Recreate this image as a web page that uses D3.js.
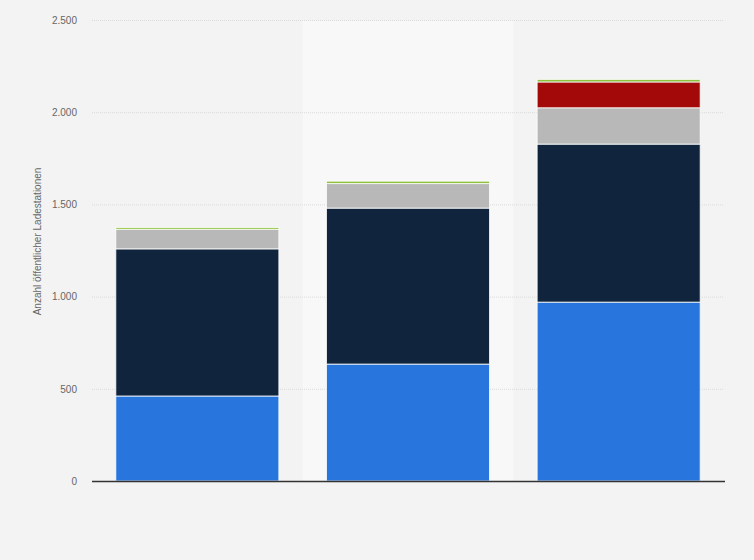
<!DOCTYPE html>
<html>
<head>
<meta charset="utf-8">
<script src="https://cdn.jsdelivr.net/npm/d3@7"></script>
<style>
  body { margin: 0; background: #f3f3f3; }
  svg { display: block; font-family: 'Liberation Sans', Arial, sans-serif; }
</style>
</head>
<body>
<div class="wrapper"></div>
<script>
// Data (no category labels are shown in the chart)
var categories = ["A", "B", "C"];
var seriesNames = ["blau", "dunkelblau", "grau", "rot", "gruen"];
var blue  = [461, 634, 970];
var navy  = [798, 846, 857];
var grey  = [106, 133, 197];
var red   = [0, 0, 140];
var green = [10, 13, 14];
var yTicks = [0, 500, 1000, 1500, 2000, 2500];
var colors = ["#2876dd", "#10253d", "#b8b8b8", "#a30909", "#8fc13f"];

var W = 754, H = 560;
var margin = {top: 20, right: 30, bottom: 79, left: 92};
var width = W - margin.left - margin.right;
var height = H - margin.top - margin.bottom;

var rows = categories.map(function(c, i) {
  return {cat: c, blau: blue[i], dunkelblau: navy[i], grau: grey[i], rot: red[i], gruen: green[i]};
});
var stack = d3.stack().keys(seriesNames)(rows);

var svg = d3.select(".wrapper").append("svg")
    .attr("width", W)
    .attr("height", H)
  .append("g")
    .attr("transform", "translate(" + margin.left + "," + margin.top + ")");

var x = d3.scaleBand().domain(categories).range([0, width]).paddingInner(0).paddingOuter(0);
var y = d3.scaleLinear().domain([0, 2500]).range([height, 0]);
var barPad = 0.113;

//Hover highlight on the middle column
svg.append("rect")
    .attr("x", x(categories[1]))
    .attr("y", 0)
    .attr("width", x.bandwidth())
    .attr("height", height)
    .attr("fill", "#f8f8f8");

//Grid
svg.append("g")
    .selectAll("line")
    .data(yTicks.slice(1))
    .enter().append("line")
    .attr("x1", 0)
    .attr("x2", width)
    .attr("y1", function(d) { return y(d) + 0.5; })
    .attr("y2", function(d) { return y(d) + 0.5; })
    .attr("stroke", "#dadada")
    .attr("stroke-dasharray", "1,1");

//Y axis labels
var yAxis = d3.axisLeft(y).tickValues(yTicks).tickSize(0).tickPadding(15)
    .tickFormat(function(d) { return d3.format(",")(d).replace(/,/g, "."); });
var ya = svg.append("g").call(yAxis);
ya.select(".domain").remove();
ya.selectAll("text").attr("fill", "#666").style("font-size", "10px");

//Bars
svg.selectAll(".series")
    .data(stack)
    .enter().append("g")
    .attr("class", "series")
    .attr("fill", function(d, i) { return colors[i]; })
  .selectAll("rect")
    .data(function(d) { return d; })
    .enter().append("rect")
    .attr("x", function(d) { return x(d.data.cat) + x.bandwidth() * barPad; })
    .attr("width", x.bandwidth() * (1 - 2 * barPad))
    .attr("y", function(d) { return y(d[1]); })
    .attr("height", function(d) { return Math.max(0, y(d[0]) - y(d[1])); })
    .attr("stroke", "#ffffff")
    .attr("stroke-opacity", function(d) { return d[1] > d[0] ? 0.8 : 0; })
    .attr("stroke-width", 1);

//Baseline
svg.append("line")
    .attr("x1", 0)
    .attr("x2", width + 1)
    .attr("y1", height + 0.5)
    .attr("y2", height + 0.5)
    .attr("stroke", "#333")
    .attr("stroke-width", 1.3);

//Y title
svg.append("text")
    .attr("transform", "rotate(-90)")
    .attr("x", -(height / 2) + 9)
    .attr("y", -51)
    .attr("text-anchor", "middle")
    .attr("fill", "#666")
    .style("font-size", "10px")
    .text("Anzahl öffentlicher Ladestationen");
</script>
</body>
</html>
